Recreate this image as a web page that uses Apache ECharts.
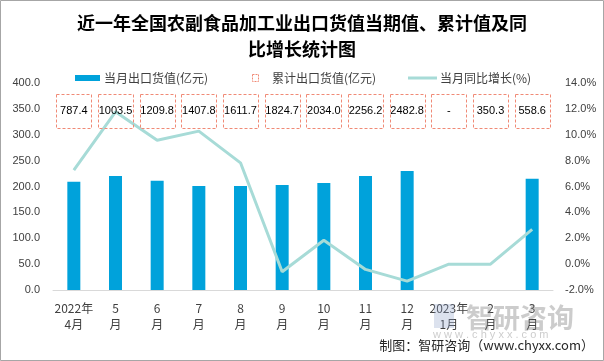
<!DOCTYPE html>
<html><head><meta charset="utf-8">
<script src="https://cdn.jsdelivr.net/npm/echarts@6/dist/echarts.min.js"></script>
<style>html,body{margin:0;padding:0;background:#fff}#c{width:604px;height:361px}</style>
</head><body><div id="c"></div>
<script>
var categories = ['2022年\n4月','5\n月','6\n月','7\n月','8\n月','9\n月','10\n月','11\n月','12\n月','2023年\n1月','2\n月','3\n月'];
var monthlyValue = [209, 220.5, 211, 201, 201, 203, 207, 220.5, 230, '-', '-', 215];
var cumulativeValue = ['787.4','1003.5','1209.8','1407.8','1611.7','1824.7','2034.0','2256.2','2482.8','-','350.3','558.6'];
var yoyGrowth = [7.26, 11.77, 9.58, 10.28, 7.83, -0.59, 1.85, -0.41, -1.31, 0, 0, 2.68];
var leftTicks = {min: 0, max: 400, interval: 50};
var rightTicks = {min: -2, max: 14, interval: 2};

var CJK = '"Noto Sans CJK SC","Liberation Sans",sans-serif';
var NUM = '"Liberation Sans",Arial,sans-serif';
var chart = echarts.init(document.getElementById('c'), null, {renderer: 'canvas'});
chart.setOption({
  animation: false,
  backgroundColor: '#fff',
  grid: {left: 53, right: 51, top: 83, bottom: 71},
  xAxis: {
    type: 'category', data: categories,
    axisLine: {lineStyle: {color: '#d9d9d9', width: 1}},
    axisTick: {show: false},
    axisLabel: {color: '#404040', fontSize: 12, fontFamily: CJK, interval: 0, lineHeight: 16, margin: 10}
  },
  yAxis: [{
    type: 'value', min: leftTicks.min, max: leftTicks.max, interval: leftTicks.interval,
    splitLine: {show: false}, axisLine: {show: false}, axisTick: {show: false},
    axisLabel: {color: '#404040', fontSize: 11, fontFamily: NUM, margin: 13, formatter: function (v) { return v.toFixed(1); }}
  }, {
    type: 'value', min: rightTicks.min, max: rightTicks.max, interval: rightTicks.interval,
    splitLine: {show: false}, axisLine: {show: false}, axisTick: {show: false},
    axisLabel: {color: '#404040', fontSize: 11, fontFamily: NUM, margin: 12, formatter: function (v) { return v.toFixed(1) + '%'; }}
  }],
  series: [{
    name: '当月出口货值(亿元)', type: 'bar', data: monthlyValue, barWidth: 13,
    itemStyle: {color: '#00A2DB'}
  }, {
    name: '当月同比增长(%)', type: 'line', yAxisIndex: 1, data: yoyGrowth, z: 3,
    symbol: 'none', lineStyle: {color: '#A7DBD7', width: 3}, itemStyle: {color: '#A7DBD7'}
  }, {
    name: '累计出口货值(亿元)', type: 'custom', yAxisIndex: 0, z: 4,
    data: cumulativeValue.map(function (v, i) { return [i, 0]; }),
    encode: {x: 0, y: 1},
    clip: false,
    renderItem: function (params, api) {
      var i = params.dataIndex;
      var cx = api.coord([i, 0])[0];
      var top = params.coordSys.y + 11;
      return {
        type: 'group', children: [{
          type: 'rect', shape: {x: Math.round(cx - 17.5) + 0.5, y: top + 0.5, width: 35, height: 34},
          style: {fill: 'none', stroke: '#F08A76', lineWidth: 1, lineDash: [3, 2]}
        }, {
          type: 'text', x: cx, y: top + 17,
          style: {text: cumulativeValue[i], fill: '#000', font: '11px ' + NUM, textAlign: 'center', textVerticalAlign: 'middle'}
        }]
      };
    }
  }],
  graphic: [
    {type: 'rect', shape: {x: 0.5, y: 0.5, width: 603, height: 360}, style: {fill: 'none', stroke: '#a6a6a6', lineWidth: 1}, z: 100},
    {type: 'text', left: 'center', top: 10, style: {text: '近一年全国农副食品加工业出口货值当期值、累计值及同\n比增长统计图', fill: '#000', font: 'bold 18px "Noto Sans CJK SC"', textAlign: 'center', lineHeight: 26}},
    {type: 'rect', shape: {x: 75, y: 75, width: 25, height: 6}, style: {fill: '#00A2DB'}},
    {type: 'text', x: 104, y: 78, style: {text: '当月出口货值(亿元)', fill: '#404040', font: '12px ' + CJK, textVerticalAlign: 'middle'}},
    {type: 'rect', shape: {x: 252.5, y: 74.5, width: 6, height: 7}, style: {fill: '#fff', stroke: '#F08A76', lineWidth: 1, lineDash: [2, 1]}},
    {type: 'text', x: 272, y: 78, style: {text: '累计出口货值(亿元)', fill: '#404040', font: '12px ' + CJK, textVerticalAlign: 'middle'}},
    {type: 'rect', shape: {x: 408, y: 76.5, width: 29, height: 3}, style: {fill: '#A7DBD7'}},
    {type: 'text', x: 440, y: 78, style: {text: '当月同比增长(%)', fill: '#404040', font: '12px ' + CJK, textVerticalAlign: 'middle'}},
    {type: 'rect', shape: {x: 434, y: 304, width: 20, height: 24}, style: {fill: 'rgba(140,160,200,0.3)'}, z: 50},
    {type: 'text', x: 466, y: 318, style: {text: '智研咨询', fill: 'rgba(120,120,120,0.38)', font: 'bold 27px "Noto Sans CJK SC"', textVerticalAlign: 'middle'}, z: 50},
    {type: 'text', x: 433, y: 335, style: {text: 'w w w . c h y x x . c o m', fill: 'rgba(120,120,120,0.38)', font: '11px ' + NUM, textVerticalAlign: 'middle'}, z: 50},
    {type: 'text', right: 10, top: 339, style: {text: '制图：智研咨询（www.chyxx.com）', fill: '#262626', font: '13px ' + CJK}, z: 60}
  ]
});
</script></body></html>
